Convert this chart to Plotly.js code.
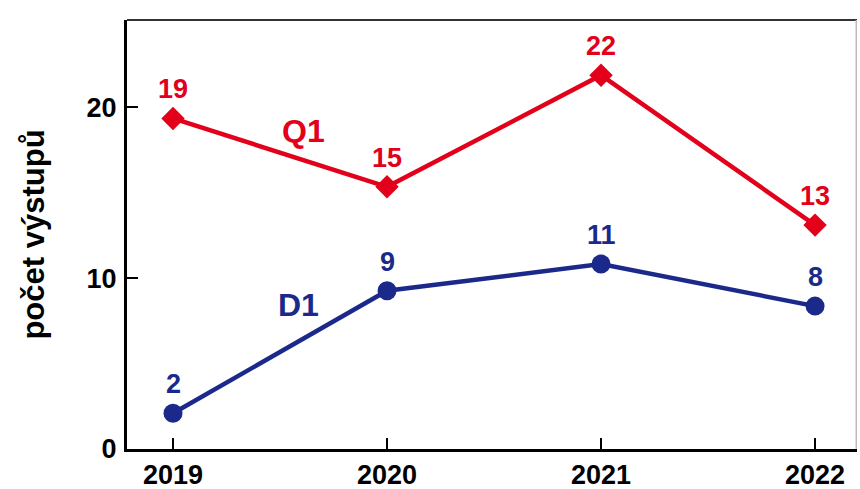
<!DOCTYPE html>
<html>
<head>
<meta charset="utf-8">
<script src="https://cdn.plot.ly/plotly-3.0.1.min.js"></script>
<style>html,body{margin:0;padding:0;background:#fff;}#chart{width:860px;height:489px;}</style>
</head>
<body>
<div id="chart"></div>
<script>
const years = [2019, 2020, 2021, 2022];
const q1Values = [19.34, 15.34, 21.87, 13.1];
const d1Values = [2.09, 9.26, 10.82, 8.36];
const q1Labels = ['19', '15', '22', '13'];
const d1Labels = ['2', '9', '11', '8'];
const yTicks = [0, 10, 20];
const xTickLabels = ['2019', '2020', '2021', '2022'];

const RED = '#E2001A';
const BLUE = '#1B2A8A';
const FONT = 'Liberation Sans, Arial, sans-serif';

const traces = [
  {x: years, y: q1Values, mode: 'lines+markers', line: {color: RED, width: 4.5},
   marker: {symbol: 'diamond', size: 18, color: RED}, hoverinfo: 'none'},
  {x: years, y: d1Values, mode: 'lines+markers', line: {color: BLUE, width: 4.5},
   marker: {symbol: 'circle', size: 19, color: BLUE}, hoverinfo: 'none'}
];

const annotations = [];
years.forEach((yr, i) => {
  annotations.push({x: yr, y: q1Values[i], text: '<b>' + q1Labels[i] + '</b>', showarrow: false,
    yshift: 29, font: {family: FONT, size: 27, color: RED}});
  annotations.push({x: yr, y: d1Values[i], text: '<b>' + d1Labels[i] + '</b>', showarrow: false,
    yshift: 29, font: {family: FONT, size: 27, color: BLUE}});
});
annotations.push({x: 2019.61, y: 18.6, text: '<b>Q1</b>', showarrow: false,
  font: {family: FONT, size: 32, color: RED}});
annotations.push({x: 2019.585, y: 8.4, text: '<b>D1</b>', showarrow: false,
  font: {family: FONT, size: 32, color: BLUE}});

const layout = {
  width: 860, height: 489,
  margin: {l: 127, r: 3, t: 20, b: 40},
  paper_bgcolor: '#fff', plot_bgcolor: '#fff',
  showlegend: false,
  font: {family: FONT, color: '#000'},
  xaxis: {
    range: [2018.785, 2022.196], tickvals: years, ticktext: xTickLabels.map(t => '<b>' + t + '</b>'),
    ticks: 'inside', ticklen: 11, tickwidth: 2, tickcolor: '#000',
    showline: true, linecolor: '#000', linewidth: 3, showgrid: false, zeroline: false,
    tickfont: {family: FONT, size: 27, color: '#000'}, ticklabelstandoff: 0
  },
  yaxis: {
    range: [0, 25.1], tickvals: yTicks, ticktext: yTicks.map(t => '<b>' + t + '</b>'),
    ticks: 'inside', ticklen: 11, tickwidth: 2, tickcolor: '#000',
    showline: true, linecolor: '#000', linewidth: 3, showgrid: false, zeroline: false,
    tickfont: {family: FONT, size: 27, color: '#000'}, ticklabelstandoff: 2,
    title: {text: '<b>počet výstupů</b>', font: {family: FONT, size: 31, color: '#000'}, standoff: 33}
  },
  shapes: [
    {type: 'line', xref: 'paper', yref: 'paper', x0: 0, x1: 1, y0: 1, y1: 1, line: {color: '#333', width: 2}},
    {type: 'line', xref: 'paper', yref: 'paper', x0: 0.999, x1: 0.999, y0: 0, y1: 1, line: {color: '#bbb', width: 1.5}}
  ],
  annotations: annotations
};

Plotly.newPlot('chart', traces, layout, {displayModeBar: false, staticPlot: true});
</script>
</body>
</html>
